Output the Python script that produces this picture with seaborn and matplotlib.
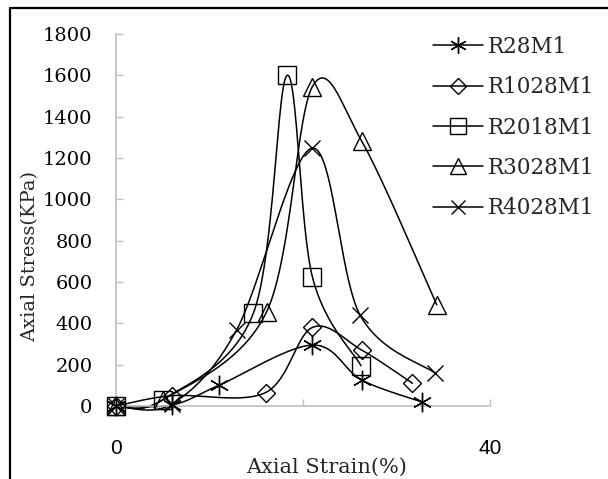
import numpy as np
import pandas as pd
import matplotlib
matplotlib.use("Agg")
import matplotlib.pyplot as plt
from matplotlib.lines import Line2D
import seaborn as sns

# ---- data ----
series_names = ["R28M1", "R1028M1", "R2018M1", "R3028M1", "R4028M1"]
strain_r28 = [0, 6.0, 11.0, 21.0, 26.3, 32.7]
stress_r28 = [0, 5, 100, 295, 125, 20]
strain_r1028 = [0, 6.0, 16.0, 21.0, 26.3, 31.7]
stress_r1028 = [0, 50, 65, 380, 270, 110]
strain_r2018 = [0, 5.0, 14.7, 18.3, 21.0, 26.2]
stress_r2018 = [0, 30, 450, 1600, 625, 195]
strain_r3028 = [0, 5.0, 16.1, 21.0, 26.3, 34.3]
stress_r3028 = [0, 30, 455, 1545, 1280, 490]
strain_r4028 = [0, 6.0, 12.9, 21.0, 26.1, 34.1]
stress_r4028 = [0, 10, 368, 1248, 440, 160]
x_ticks = [0, 20, 40]
x_tick_labels = ["0", "", "40"]
y_ticks = [0, 200, 400, 600, 800, 1000, 1200, 1400, 1600, 1800]

strains = [strain_r28, strain_r1028, strain_r2018, strain_r3028, strain_r4028]
stresses = [stress_r28, stress_r1028, stress_r2018, stress_r3028, stress_r4028]
markers = [(6, 2, 0), "D", "s", "^", "x"]
msizes = [14, 9, 13, 13, 12]


def smooth(xs, ys, n=40):
    """Excel-style smoothed line (Catmull-Rom Bezier) through the points."""
    P = np.column_stack([xs, ys]).astype(float)
    out = []
    for i in range(len(P) - 1):
        p0 = P[i - 1] if i > 0 else P[i]
        p1, p2 = P[i], P[i + 1]
        p3 = P[i + 2] if i + 2 < len(P) else P[i + 1]
        b1 = p1 + (p2 - p0) / 6.0
        b2 = p2 - (p3 - p1) / 6.0
        t = np.linspace(0, 1, n)[:, None]
        seg = (1 - t) ** 3 * p1 + 3 * (1 - t) ** 2 * t * b1 + 3 * (1 - t) * t ** 2 * b2 + t ** 3 * p2
        out.append(seg if i == 0 else seg[1:])
    return np.vstack(out)


sns.set_theme(style="white")
plt.rcParams["font.family"] = ["DejaVu Serif"]

fig = plt.figure(figsize=(6.08, 4.79), dpi=100)
ax = fig.add_axes([116 / 608, 1 - 406 / 479, (490 - 116) / 608, (406 - 34) / 479])

handles = []
for name, xs, ys, mk, ms in zip(series_names, strains, stresses, markers, msizes):
    curve = smooth(xs, ys)
    df = pd.DataFrame({"x": curve[:, 0], "y": curve[:, 1]})
    sns.lineplot(data=df, x="x", y="y", sort=False, estimator=None, color="black",
                 lw=1.1, ax=ax, clip_on=False)
    ax.plot(xs, ys, linestyle="none", marker=mk, markersize=ms, markerfacecolor="none",
            markeredgecolor="black", markeredgewidth=1.0, clip_on=False, zorder=3)
    handles.append(Line2D([0], [0], color="black", lw=1.1, marker=mk, markersize=ms * 0.85,
                          markerfacecolor="none", markeredgecolor="black", markeredgewidth=1.0))

ax.set_xlim(0, 40)
ax.set_ylim(0, 1800)
ax.set_xticks(x_ticks)
ax.set_xticklabels(x_tick_labels, fontfamily="Liberation Sans", fontsize=15)
ax.set_yticks(y_ticks)
ax.set_yticklabels([str(v) for v in y_ticks], fontsize=14)
ax.tick_params(axis="x", direction="in", length=5, width=1, color="#bfbfbf", pad=24, labelcolor="black")
ax.tick_params(axis="y", direction="in", length=5, width=1, color="#bfbfbf", pad=17, labelcolor="black")
ax.tick_params(left=True, bottom=True)
for s in ["top", "right"]:
    ax.spines[s].set_visible(False)
for s in ["left", "bottom"]:
    ax.spines[s].set_color("#bfbfbf")
    ax.spines[s].set_linewidth(1.2)

ax.set_xlabel("Axial Strain(%)", fontsize=15, va="center", ha="center")
ax.xaxis.set_label_coords((327 - 116) / 374, (406 - 467) / 372)
ax.set_ylabel("Axial Stress(KPa)", fontsize=14, va="center", ha="center")
ax.yaxis.set_label_coords((30 - 116) / 374, (406 - 257) / 372)

leg = ax.legend(handles, series_names, loc="upper left", bbox_to_anchor=(433 / 608, 1 - 36 / 479),
                bbox_transform=fig.transFigure, frameon=False, fontsize=15.5,
                handlelength=2.3, handletextpad=0.25, labelspacing=0.85, borderpad=0,
                borderaxespad=0)

# outer frame of the figure (left and top edges visible)
fig.add_artist(Line2D([10 / 608, 10 / 608], [0, 1 - 8 / 479], color="black", lw=1.6,
                      transform=fig.transFigure))
fig.add_artist(Line2D([10 / 608, 1], [1 - 8 / 479, 1 - 8 / 479], color="black", lw=1.6,
                      transform=fig.transFigure))

fig.savefig("out.png", dpi=100)
